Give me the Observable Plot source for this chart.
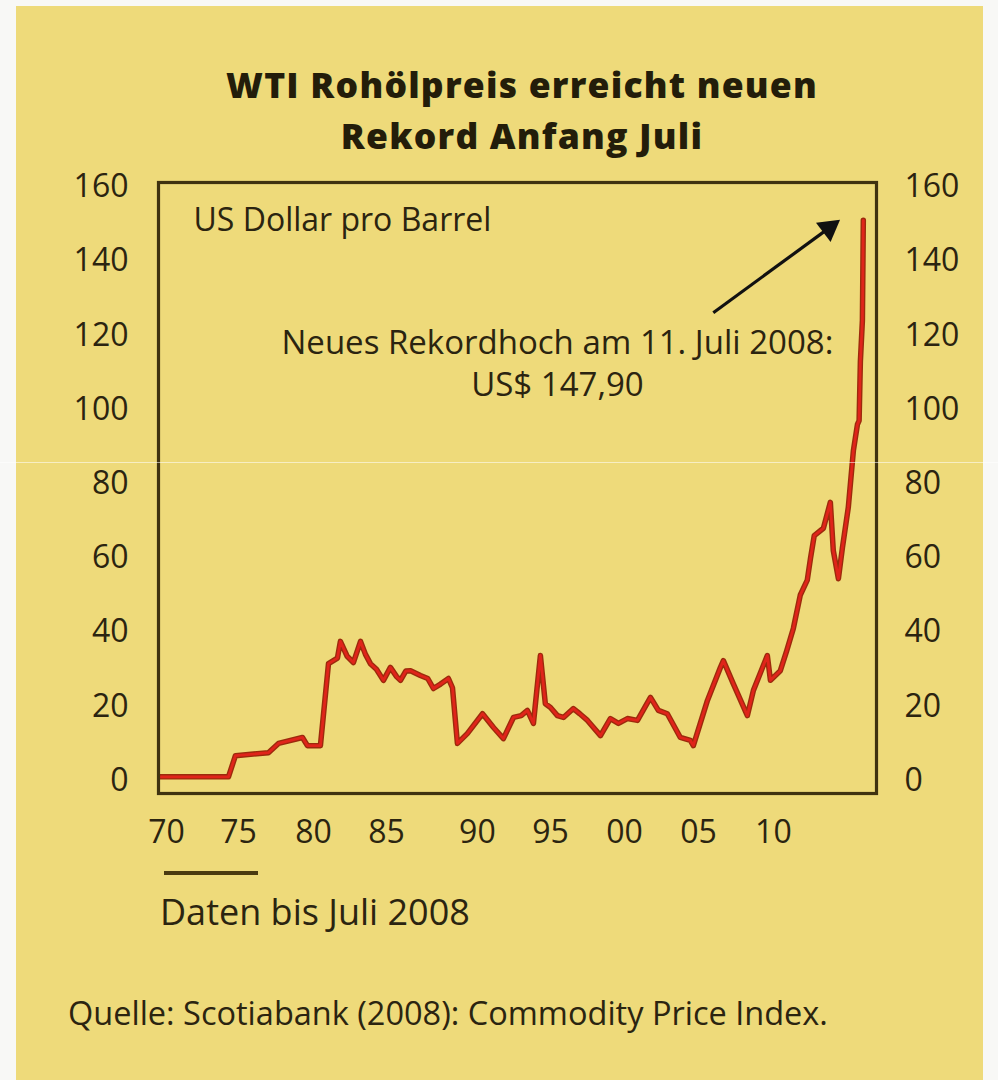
<!DOCTYPE html>
<html>
<head>
<meta charset="utf-8">
<script src="https://cdn.jsdelivr.net/npm/d3@7"></script>
<script src="https://cdn.jsdelivr.net/npm/@observablehq/plot@0.6"></script>
<style>
  html, body { margin: 0; padding: 0; width: 998px; height: 1080px; overflow: hidden; background: #f8f8f6; }
  body { font-family: "Open Sans", "DejaVu Sans", sans-serif; color: #2b2410; position: relative; }
  #panel { position: absolute; left: 16px; top: 6px; width: 967px; height: 1074px; background: #eeda7a; }
  .title { position: absolute; left: 0; width: 1044px; text-align: center; font-weight: 800; font-size: 35.5px; letter-spacing: 1.2px; line-height: 38px; height: 38px; color: #231d0a; white-space: nowrap; }
  #title1 { top: 65px; }
  #title2 { top: 116px; }
  #chart { position: absolute; left: 0; top: 160px; }
  #bar { position: absolute; left: 164px; top: 871px; width: 94px; height: 4px; background: #4a3a10; }
  #note { position: absolute; left: 160px; top: 890px; font-size: 36px; line-height: 44px; white-space: nowrap; }
  #source { position: absolute; left: 68px; top: 991px; font-size: 32.5px; line-height: 44px; white-space: nowrap; }
  #scan { position: absolute; left: 0; top: 462px; width: 998px; height: 1px; background: rgba(255,255,255,0.55); }
</style>
</head>
<body>
<div id="panel"></div>
<div class="title" id="title1">WTI Rohölpreis erreicht neuen</div>
<div class="title" id="title2">Rekord Anfang Juli</div>
<div id="chart"></div>
<div id="bar"></div>
<div id="note">Daten bis Juli 2008</div>
<div id="source">Quelle: Scotiabank (2008): Commodity Price Index.</div>
<div id="scan"></div>
<script>
// WTI crude oil price, US dollar per barrel
const years = [
  1970.1, 1973.82, 1974.2, 1976.0, 1976.55, 1977.86, 1978.13, 1978.84, 1979.28, 1979.77,
  1979.93, 1980.3, 1980.64, 1981.03, 1981.3, 1981.57, 1981.9, 1982.28, 1982.66, 1983.0,
  1983.21, 1983.5, 1983.76, 1984.3, 1984.7, 1985.01, 1985.4, 1985.83, 1986.05, 1986.32,
  1986.87, 1987.69, 1988.29, 1988.83, 1989.38, 1989.8, 1990.14, 1990.47, 1990.85, 1991.12,
  1991.4, 1991.78, 1992.11, 1992.65, 1993.0, 1993.42, 1994.13, 1994.67, 1995.11, 1995.6,
  1996.15, 1996.86, 1997.29, 1997.78, 1998.49, 1999.04, 1999.2, 1999.97, 2000.68, 2000.84,
  2001.39, 2002.15, 2002.48, 2003.24, 2003.41, 2003.95, 2004.3, 2004.66, 2005.04, 2005.42,
  2005.6, 2005.8, 2006.3, 2006.68, 2006.84, 2007.12, 2007.34, 2007.66, 2007.94, 2008.16,
  2008.25, 2008.32, 2008.43, 2008.48
];
const prices = [
  1.0, 1.0, 6.7, 7.5, 10.0, 11.6, 9.4, 9.4, 31.5, 33.0,
  37.5, 33.5, 31.8, 37.5, 34.0, 31.5, 30.0, 27.0, 30.5, 28.0,
  27.0, 29.5, 29.6, 28.3, 27.5, 24.8, 26.0, 27.5, 25.0, 10.0,
  12.7, 18.0, 14.3, 11.3, 17.0, 17.5, 18.9, 15.4, 33.7, 20.7,
  19.7, 17.5, 17.0, 19.4, 18.0, 16.2, 12.1, 16.7, 15.4, 16.7,
  16.2, 22.4, 18.9, 18.0, 11.6, 10.8, 9.4, 21.6, 30.5, 32.3,
  26.0, 17.5, 24.3, 33.7, 27.0, 29.6, 35.0, 41.0, 50.0, 54.0,
  60.0, 66.0, 68.0, 75.0, 62.0, 54.4, 62.8, 73.6, 89.0, 96.0,
  97.0, 113.0, 124.0, 151.0
];
const yTicks = [0, 20, 40, 60, 80, 100, 120, 140, 160];
// positions (in years) where the original chart prints its x labels
const xTickPos = [1970.44, 1974.37, 1978.46, 1982.45, 1987.41, 1991.40, 1995.44, 1999.48, 2003.57];
const xTickLabels = ["70", "75", "80", "85", "90", "95", "00", "05", "10"];
const unitLabel = [{year: 1971.91, value: 150.9, text: "US Dollar pro Barrel"}];
const recordNote = [{year: 1991.78, value: 113.0, text: "Neues Rekordhoch am 11. Juli 2008:\nUS$ 147,90"}];
const arrowFrom = [{year: 2000.29, value: 126.1}];
const arrowTo = [{year: 2006.6, value: 148.9}];

const data = years.map((y, i) => ({year: y, price: prices[i]}));
const ink = "#2b2410";

const chart = Plot.plot({
  width: 998,
  height: 700,
  marginLeft: 158,
  marginRight: 122,
  marginTop: 22,
  marginBottom: 67,
  style: {background: "transparent", color: ink, fontFamily: "'Open Sans', sans-serif", overflow: "visible"},
  x: {domain: [1970, 2009.2]},
  y: {domain: [-3.5, 161.2]},
  marks: [
    Plot.axisY({anchor: "left", ticks: yTicks, tickSize: 0, tickPadding: 30, fontSize: 32, fontWeight: 500, label: null}),
    Plot.axisY({anchor: "right", ticks: yTicks, tickSize: 0, tickPadding: 28, fontSize: 32, fontWeight: 500, textAnchor: "start", label: null}),
    Plot.axisX({ticks: xTickPos, tickFormat: (d, i) => xTickLabels[i], tickSize: 0, tickPadding: 27, fontSize: 32, fontWeight: 500, label: null}),
    Plot.line(data, {x: "year", y: "price", stroke: "#9c2a0c", strokeWidth: 5.5}),
    Plot.line(data, {x: "year", y: "price", stroke: "#e0241a", strokeWidth: 2.8}),
    Plot.text(unitLabel, {x: "year", y: "value", text: "text", textAnchor: "start", fontSize: 32, fill: ink}),
    Plot.text(recordNote, {x: "year", y: "value", text: "text", textAnchor: "middle", lineAnchor: "middle", lineHeight: 1.27, fontSize: 33, fill: ink}),
    Plot.link(arrowFrom.map((d, i) => ({x1: d.year, y1: d.value, x2: arrowTo[i].year, y2: arrowTo[i].value})),
      {x1: "x1", y1: "y1", x2: "x2", y2: "y2", stroke: "#111", strokeWidth: 3.2}),
    Plot.dot(arrowTo, {x: "year", y: "value", symbol: "triangle", r: 9, fill: "#111", stroke: "none", rotate: 53}),
    Plot.frame({stroke: "#3f3210", strokeWidth: 3.2})
  ]
});
document.getElementById("chart").appendChild(chart);
</script>
</body>
</html>
